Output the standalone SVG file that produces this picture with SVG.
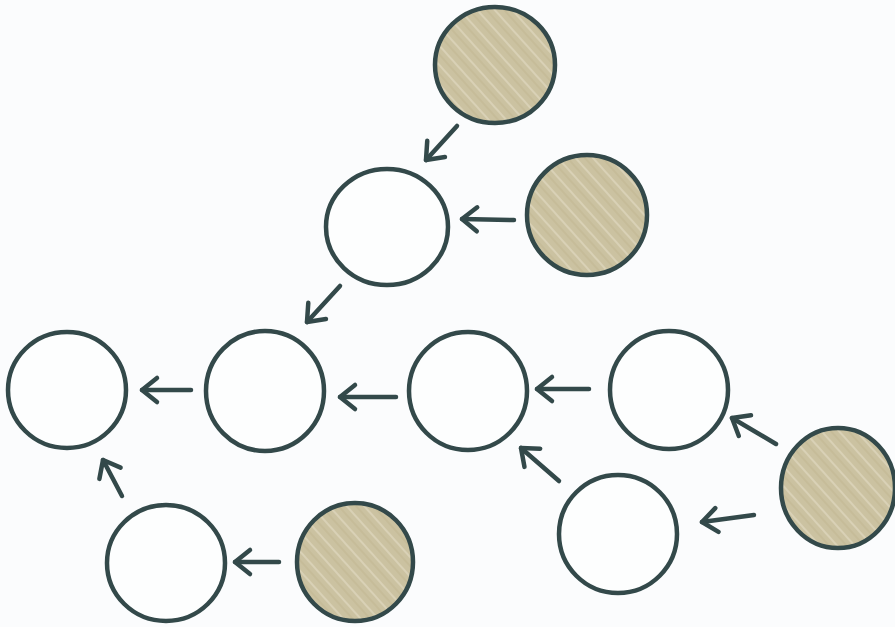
<svg xmlns="http://www.w3.org/2000/svg" width="895" height="627" viewBox="0 0 895 627">
<style>
.n{fill:#fdfefe;stroke:#33494a;stroke-width:4.5}
.s{fill:url(#hatch);stroke:#33494a;stroke-width:4.5}
.c line{stroke:#33494a;stroke-width:4.5;stroke-linecap:round;marker-end:url(#ah)}
</style>
<defs>
<pattern id="hatch" patternUnits="userSpaceOnUse" width="13" height="13" patternTransform="rotate(48)">
<rect width="13" height="13" fill="#cbc2a1"/>
<line x1="0" y1="3" x2="13" y2="3" stroke="#d9d1b6" stroke-width="2"/>
<line x1="0" y1="9" x2="13" y2="9" stroke="#c6bc99" stroke-width="2"/>
</pattern>
<marker id="ah" markerUnits="userSpaceOnUse" markerWidth="40" markerHeight="40" refX="0" refY="0" viewBox="-20 -20 40 40" orient="auto" overflow="visible">
<path d="M-15,-12 L0,0 L-15,12" fill="none" stroke="#33494a" stroke-width="4.5" stroke-linecap="round" stroke-linejoin="round"/>
</marker>
</defs>
<rect width="895" height="627" fill="#fbfcfd"/>
<g class="c" id="connectors">
<line x1="457" y1="126" x2="426" y2="160"/>
<line x1="514" y1="220" x2="462" y2="219"/>
<line x1="340" y1="286" x2="307" y2="322"/>
<line x1="191" y1="390" x2="142" y2="390"/>
<line x1="396" y1="397" x2="340" y2="397"/>
<line x1="589" y1="389" x2="537" y2="389"/>
<line x1="776" y1="444" x2="732" y2="418"/>
<line x1="559" y1="481" x2="521" y2="448"/>
<line x1="754" y1="515" x2="702" y2="522"/>
<line x1="279" y1="562" x2="235" y2="562"/>
<line x1="122" y1="496" x2="103" y2="460"/>
</g>
<g id="s1"><ellipse class="s" cx="495" cy="65" rx="60" ry="58"/></g>
<g id="w1"><ellipse class="n" cx="387" cy="227" rx="61" ry="58"/></g>
<g id="s2"><ellipse class="s" cx="587" cy="215" rx="60" ry="60"/></g>
<g id="w2"><ellipse class="n" cx="67" cy="390" rx="59" ry="58"/></g>
<g id="w3"><ellipse class="n" cx="265" cy="391" rx="59" ry="60"/></g>
<g id="w4"><ellipse class="n" cx="468" cy="391" rx="59" ry="59"/></g>
<g id="w5"><ellipse class="n" cx="669" cy="390" rx="59" ry="59"/></g>
<g id="s3"><ellipse class="s" cx="838" cy="488" rx="57" ry="60"/></g>
<g id="w6"><ellipse class="n" cx="618" cy="534" rx="59" ry="59"/></g>
<g id="w7"><ellipse class="n" cx="166" cy="563" rx="59" ry="58"/></g>
<g id="s4"><ellipse class="s" cx="355" cy="562" rx="58" ry="59"/></g>
</svg>
